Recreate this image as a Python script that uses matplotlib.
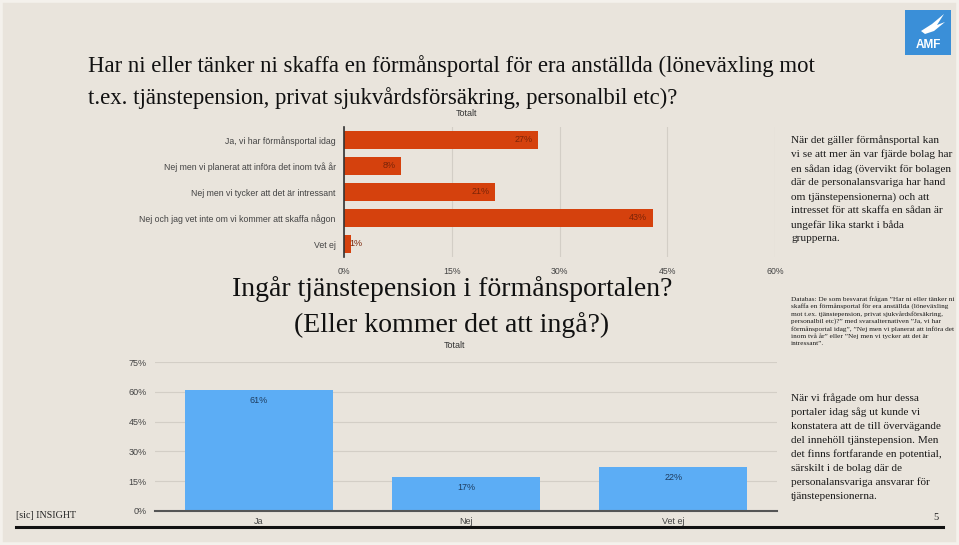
import numpy as np
import matplotlib.pyplot as plt
from matplotlib.patches import Rectangle, Polygon

W, H = 959, 545
BG = '#e9e4dc'

# Övre diagrammet: förmånsportal
kat_portal = ['Ja, vi har förmånsportal idag',
              'Nej men vi planerat att införa det inom två år',
              'Nej men vi tycker att det är intressant',
              'Nej och jag vet inte om vi kommer att skaffa någon',
              'Vet ej']
val_portal = [27, 8, 21, 43, 1]
ticks_portal = [0, 15, 30, 45, 60]

# Nedre diagrammet: tjänstepension i portalen
kat_tp = ['Ja', 'Nej', 'Vet ej']
val_tp = [61, 17, 22]
ticks_tp = [0, 15, 30, 45, 60, 75]

titel = ('Har ni eller tänker ni skaffa en förmånsportal för era anställda (löneväxling mot\n'
         't.ex. tjänstepension, privat sjukvårdsförsäkring, personalbil etc)?')
titel2 = 'Ingår tjänstepension i förmånsportalen?\n(Eller kommer det att ingå?)'

text1 = ('När det gäller förmånsportal kan\n'
         'vi se att mer än var fjärde bolag har\n'
         'en sådan idag (övervikt för bolagen\n'
         'där de personalansvariga har hand\n'
         'om tjänstepensionerna) och att\n'
         'intresset för att skaffa en sådan är\n'
         'ungefär lika starkt i båda\n'
         'grupperna.')
text_db = ('Databas: De som besvarat frågan ”Har ni eller tänker ni\n'
           'skaffa en förmånsportal för era anställda (löneväxling\n'
           'mot t.ex. tjänstepension, privat sjukvårdsförsäkring,\n'
           'personalbil etc)?” med svarsalternativen ”Ja, vi har\n'
           'förmånsportal idag”, ”Nej men vi planerat att införa det\n'
           'inom två år” eller ”Nej men vi tycker att det är\n'
           'intressant”.')
text2 = ('När vi frågade om hur dessa\n'
         'portaler idag såg ut kunde vi\n'
         'konstatera att de till övervägande\n'
         'del innehöll tjänstepension. Men\n'
         'det finns fortfarande en potential,\n'
         'särskilt i de bolag där de\n'
         'personalansvariga ansvarar för\n'
         'tjänstepensionerna.')

SERIF = 'Liberation Serif'
SANS = 'Liberation Sans'

fig = plt.figure(figsize=(W / 100, H / 100), dpi=100, facecolor=BG)


def fx(x):
    return x / W


def fy(y):
    return 1 - y / H


def px_axes(l, t, r, b):
    ax = fig.add_axes([fx(l), fy(b), (r - l) / W, (b - t) / H])
    ax.set_facecolor('none')
    return ax


# ram
fig.patches.append(Rectangle((0, 0), 1, 1, transform=fig.transFigure, fill=False,
                             edgecolor='#f4f1ec', linewidth=4))

# rubrik
fig.text(fx(88), fy(82), titel, family=SERIF, fontsize=16.4, color='#111111',
         va='center', ha='left', linespacing=1.6)
fig.text(fx(467), fy(113), 'Totalt', family=SANS, fontsize=6.5, color='#333333',
         ha='center', va='center')

# övre diagram
ax1 = px_axes(344, 127, 775, 257)
y = np.arange(len(kat_portal))
ax1.barh(y, val_portal, height=0.72, color='#d5410d', zorder=3)
ax1.set_xlim(0, 60)
ax1.set_ylim(len(kat_portal) - 0.5, -0.5)
ax1.set_xticks(ticks_portal)
ax1.set_xticklabels([f'{t}%' for t in ticks_portal])
ax1.set_yticks(y)
ax1.set_yticklabels(kat_portal)
ax1.tick_params(axis='both', length=0, labelsize=6.3, labelcolor='#444444')
ax1.tick_params(axis='x', pad=7)
ax1.tick_params(axis='y', pad=6)
for lab in ax1.get_xticklabels() + ax1.get_yticklabels():
    lab.set_family(SANS)
ax1.grid(axis='x', color='#d3cec6', linewidth=0.8, zorder=0)
for s in ['top', 'right', 'bottom']:
    ax1.spines[s].set_visible(False)
ax1.spines['left'].set_color('#333333')
ax1.spines['left'].set_linewidth(1.2)
ax1.spines['left'].set_zorder(4)
for yi, v in zip(y, val_portal):
    if v >= 4:
        ax1.annotate(f'{v}%', (v, yi), xytext=(-4, 0), textcoords='offset points',
                     ha='right', va='center', fontsize=6.5, color='#7a2408',
                     family=SANS, zorder=5)
    else:
        ax1.annotate(f'{v}%', (v, yi), xytext=(-1, 0), textcoords='offset points',
                     ha='left', va='center', fontsize=6.5, color='#7a2408',
                     family=SANS, zorder=5)

# nedre rubrik
fig.text(fx(452), fy(307), titel2, family=SERIF, fontsize=20, color='#111111',
         ha='center', va='center', linespacing=1.5)
fig.text(fx(455), fy(346), 'Totalt', family=SANS, fontsize=6.5, color='#333333',
         ha='center', va='center')

# nedre diagram
ax2 = px_axes(155, 362, 777, 511)
x = np.arange(len(kat_tp))
ax2.bar(x, val_tp, width=0.715, color='#5cadf5', zorder=3)
ax2.set_xlim(-0.5, len(kat_tp) - 0.5)
ax2.set_ylim(0, 75)
ax2.set_yticks(ticks_tp)
ax2.set_yticklabels([f'{t}%' for t in ticks_tp])
ax2.set_xticks(x)
ax2.set_xticklabels(kat_tp)
ax2.tick_params(axis='both', length=0, labelsize=6.5, labelcolor='#444444')
ax2.tick_params(axis='y', pad=6)
ax2.tick_params(axis='x', pad=4)
for lab in ax2.get_xticklabels() + ax2.get_yticklabels():
    lab.set_family(SANS)
ax2.grid(axis='y', color='#d3cec6', linewidth=0.8, zorder=0)
for s in ['top', 'right', 'left']:
    ax2.spines[s].set_visible(False)
ax2.spines['bottom'].set_color('#555555')
ax2.spines['bottom'].set_linewidth(1.5)
ax2.spines['bottom'].set_zorder(4)
for xi, v in zip(x, val_tp):
    ax2.annotate(f'{v}%', (xi, v), xytext=(0, -7.5), textcoords='offset points',
                 ha='center', va='center', fontsize=6.5, color='#1e3c5e',
                 family=SANS, zorder=5)

# högerspalt
fig.text(fx(791), fy(135), text1, family=SERIF, fontsize=8.1, color='#1a1a1a',
         ha='left', va='top', linespacing=1.63)
fig.text(fx(791), fy(296), text_db, family=SERIF, fontsize=5.2, color='#1a1a1a',
         ha='left', va='top', linespacing=1.4)
fig.text(fx(791), fy(393), text2, family=SERIF, fontsize=8.1, color='#1a1a1a',
         ha='left', va='top', linespacing=1.65)

# sidfot
fig.add_artist(plt.Line2D([fx(16), fx(943)], [fy(527), fy(527)], color='#111111',
                          linewidth=2.2, transform=fig.transFigure))
fig.text(fx(16), fy(516), '[sic] INSIGHT', family=SERIF, fontsize=7.2, color='#222222',
         ha='left', va='center')
fig.text(fx(936), fy(517), '5', family=SERIF, fontsize=7.5, color='#222222',
         ha='center', va='center')

# AMF-logga
fig.patches.append(Rectangle((fx(905), fy(55)), 46 / W, 45 / H, transform=fig.transFigure,
                             facecolor='#3a8fd8', edgecolor='none'))
fig.text(fx(928), fy(45), 'AMF', family=SANS, fontsize=8.5, weight='bold', color='white',
         ha='center', va='center')
fig.patches.append(Polygon([(fx(921), fy(31)), (fx(932), fy(24)), (fx(944), fy(14)),
                            (fx(937), fy(25)), (fx(945), fy(22)), (fx(934), fy(31)),
                            (fx(925), fy(34))], closed=True, transform=fig.transFigure,
                           facecolor='white', edgecolor='none'))

fig.savefig('out.png', dpi=100, facecolor=BG)
